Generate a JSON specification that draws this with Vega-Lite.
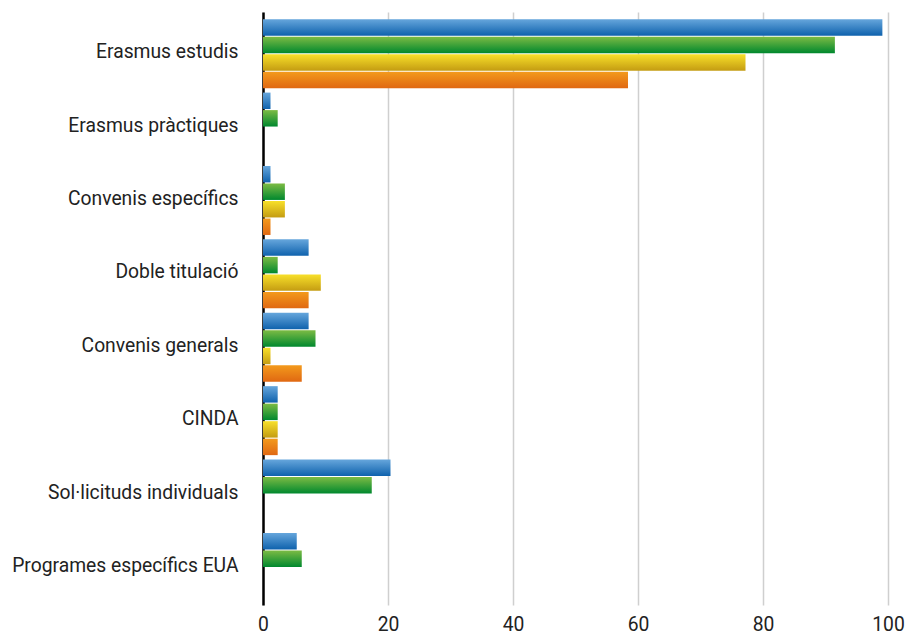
{
  "$schema": "https://vega.github.io/schema/vega-lite/v6.json",
  "width": 625,
  "height": 593,
  "autosize": {"type": "none"},
  "padding": {"left": 263, "top": 12, "right": 19, "bottom": 30},
  "background": "white",
  "config": {
    "view": {"stroke": null},
    "font": "Roboto",
    "axis": {"labelFont": "Roboto", "labelColor": "#222222", "labelFontSize": 19.3}
  },
  "data": {
    "values": [
      {"categoria": "Erasmus estudis", "serie": "S1", "valor": 99.1},
      {"categoria": "Erasmus estudis", "serie": "S2", "valor": 91.5},
      {"categoria": "Erasmus estudis", "serie": "S3", "valor": 77.2},
      {"categoria": "Erasmus estudis", "serie": "S4", "valor": 58.4},
      {"categoria": "Erasmus pràctiques", "serie": "S1", "valor": 1.2},
      {"categoria": "Erasmus pràctiques", "serie": "S2", "valor": 2.35},
      {"categoria": "Convenis específics", "serie": "S1", "valor": 1.2},
      {"categoria": "Convenis específics", "serie": "S2", "valor": 3.5},
      {"categoria": "Convenis específics", "serie": "S3", "valor": 3.5},
      {"categoria": "Convenis específics", "serie": "S4", "valor": 1.2},
      {"categoria": "Doble titulació", "serie": "S1", "valor": 7.3},
      {"categoria": "Doble titulació", "serie": "S2", "valor": 2.35},
      {"categoria": "Doble titulació", "serie": "S3", "valor": 9.25},
      {"categoria": "Doble titulació", "serie": "S4", "valor": 7.3},
      {"categoria": "Convenis generals", "serie": "S1", "valor": 7.3},
      {"categoria": "Convenis generals", "serie": "S2", "valor": 8.4},
      {"categoria": "Convenis generals", "serie": "S3", "valor": 1.2},
      {"categoria": "Convenis generals", "serie": "S4", "valor": 6.2},
      {"categoria": "CINDA", "serie": "S1", "valor": 2.35},
      {"categoria": "CINDA", "serie": "S2", "valor": 2.35},
      {"categoria": "CINDA", "serie": "S3", "valor": 2.35},
      {"categoria": "CINDA", "serie": "S4", "valor": 2.35},
      {"categoria": "Sol·licituds individuals", "serie": "S1", "valor": 20.4},
      {"categoria": "Sol·licituds individuals", "serie": "S2", "valor": 17.4},
      {"categoria": "Programes específics EUA", "serie": "S1", "valor": 5.4},
      {"categoria": "Programes específics EUA", "serie": "S2", "valor": 6.2}
    ]
  },
  "encoding": {
    "y": {
      "field": "categoria",
      "type": "nominal",
      "sort": ["Erasmus estudis", "Erasmus pràctiques", "Convenis específics", "Doble titulació", "Convenis generals", "CINDA", "Sol·licituds individuals", "Programes específics EUA"],
      "scale": {"paddingInner": 0.06, "paddingOuter": 0.07, "align": 0.7},
      "axis": {
        "title": null,
        "ticks": false,
        "domain": true,
        "domainColor": "#000000",
        "domainWidth": 2.5,
        "labelPadding": 25,
        "labelOffset": -1.5,
        "labelLimit": 0,
        "grid": false
      }
    },
    "yOffset": {
      "field": "serie",
      "type": "nominal",
      "scale": {"domain": ["S1", "S2", "S3", "S4"], "paddingInner": 0.06, "paddingOuter": 0}
    },
    "x": {
      "field": "valor",
      "type": "quantitative",
      "scale": {"domain": [0, 100], "nice": false},
      "axis": {
        "title": null,
        "values": [0, 20, 40, 60, 80, 100],
        "ticks": false,
        "domain": false,
        "grid": true,
        "gridColor": "#cfcfcf",
        "gridWidth": 1.5,
        "labelPadding": 10,
        "labelFlush": false
      }
    }
  },
  "layer": [
    {
      "transform": [{"filter": "datum.serie === 'S1'"}],
      "mark": {"type": "bar", "color": {"gradient": "linear", "x1": 0, "y1": 0, "x2": 0, "y2": 1, "stops": [{"offset": 0, "color": "#66a6dc"}, {"offset": 1, "color": "#0f62ad"}]}}
    },
    {
      "transform": [{"filter": "datum.serie === 'S2'"}],
      "mark": {"type": "bar", "color": {"gradient": "linear", "x1": 0, "y1": 0, "x2": 0, "y2": 1, "stops": [{"offset": 0, "color": "#7cbb44"}, {"offset": 1, "color": "#00882e"}]}}
    },
    {
      "transform": [{"filter": "datum.serie === 'S3'"}],
      "mark": {"type": "bar", "color": {"gradient": "linear", "x1": 0, "y1": 0, "x2": 0, "y2": 1, "stops": [{"offset": 0, "color": "#f8e02a"}, {"offset": 1, "color": "#c49c12"}]}}
    },
    {
      "transform": [{"filter": "datum.serie === 'S4'"}],
      "mark": {"type": "bar", "color": {"gradient": "linear", "x1": 0, "y1": 0, "x2": 0, "y2": 1, "stops": [{"offset": 0, "color": "#f39a1c"}, {"offset": 1, "color": "#e06812"}]}}
    }
  ]
}
